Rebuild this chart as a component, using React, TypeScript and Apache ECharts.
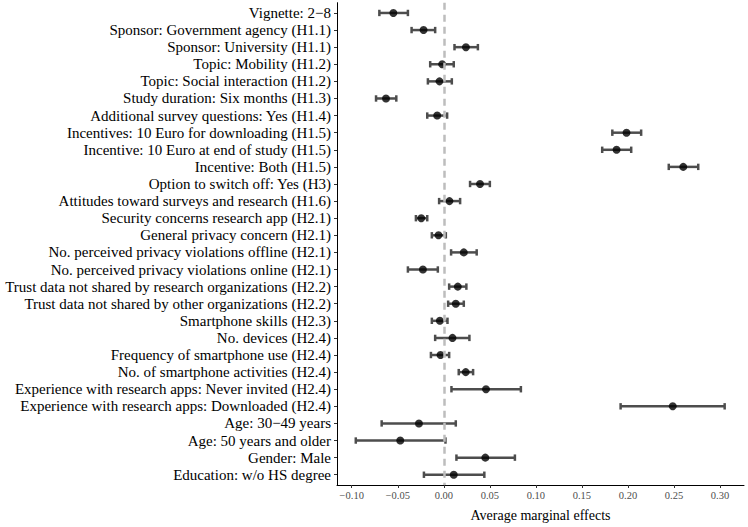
import React, { useEffect, useRef } from "react";
import * as echarts from "echarts";

const categories: string[] = [
  "Vignette: 2\u22128",
  "Sponsor: Government agency (H1.1)",
  "Sponsor: University (H1.1)",
  "Topic: Mobility (H1.2)",
  "Topic: Social interaction (H1.2)",
  "Study duration: Six months (H1.3)",
  "Additional survey questions: Yes (H1.4)",
  "Incentives: 10 Euro for downloading (H1.5)",
  "Incentive: 10 Euro at end of study (H1.5)",
  "Incentive: Both (H1.5)",
  "Option to switch off: Yes (H3)",
  "Attitudes toward surveys and research (H1.6)",
  "Security concerns research app (H2.1)",
  "General privacy concern (H2.1)",
  "No. perceived privacy violations offline (H2.1)",
  "No. perceived privacy violations online (H2.1)",
  "Trust data not shared by research organizations (H2.2)",
  "Trust data not shared by other organizations (H2.2)",
  "Smartphone skills (H2.3)",
  "No. devices (H2.4)",
  "Frequency of smartphone use (H2.4)",
  "No. of smartphone activities (H2.4)",
  "Experience with research apps: Never invited (H2.4)",
  "Experience with research apps: Downloaded (H2.4)",
  "Age: 30\u221249 years",
  "Age: 50 years and older",
  "Gender: Male",
  "Education: w/o HS degree",
];

const estimates: number[] = [
  -0.0548, -0.022, 0.024, -0.0018, -0.0047, -0.0628, -0.0072, 0.1984, 0.1876, 0.26,
  0.0393, 0.0061, -0.0245, -0.0058, 0.0217, -0.0227, 0.0152, 0.013, -0.0043, 0.0094,
  -0.0036, 0.0238, 0.0458, 0.2486, -0.027, -0.0473, 0.0451, 0.0108,
];

const lower: number[] = [
  -0.07, -0.035, 0.0116, -0.0148, -0.0173, -0.0736, -0.018, 0.183, 0.172, 0.2443,
  0.0285, -0.0051, -0.0303, -0.013, 0.0079, -0.039, 0.0058, 0.0047, -0.013, -0.0094,
  -0.014, 0.0162, 0.0083, 0.192, -0.0675, -0.0956, 0.0137, -0.0216,
];

const upper: number[] = [
  -0.039, -0.0094, 0.037, 0.0108, 0.0087, -0.0516, 0.0036, 0.2143, 0.2035, 0.2763,
  0.05, 0.0177, -0.018, 0.0022, 0.0357, -0.0065, 0.0245, 0.0217, 0.004, 0.0278,
  0.0058, 0.0318, 0.0837, 0.305, 0.013, 0.0018, 0.0772, 0.044,
];

const xTicks: number[] = [-0.1, -0.05, 0, 0.05, 0.1, 0.15, 0.2, 0.25, 0.3];

const SERIF = "Liberation Serif";

export default function App() {
  const ref = useRef<HTMLDivElement>(null);
  useEffect(() => {
    if (!ref.current) return;
    const chart = echarts.init(ref.current, undefined, { renderer: "svg" });
    const idx = categories.map((_, i) => i);
    chart.setOption({
      animation: false,
      grid: { left: 337, right: 4, top: 2.7, bottom: 40.7, containLabel: false },
      xAxis: {
        type: "value",
        position: "bottom",
        min: -0.116,
        max: 0.326,
        name: "Average marginal effects",
        nameLocation: "middle",
        nameGap: 23,
        nameTextStyle: { fontFamily: SERIF, fontSize: 14, color: "#000" },
        splitLine: { show: false },
        axisLine: { show: true, onZero: false, lineStyle: { color: "#000", width: 1 } },
        axisTick: { show: true, length: 3, customValues: xTicks, lineStyle: { color: "#333", width: 1 } },
        axisLabel: {
          customValues: xTicks,
          fontFamily: SERIF,
          fontSize: 10.5,
          color: "#4d4d4d",
          margin: 5,
          formatter: (v: number) => v.toFixed(2).replace("-", "\u2212"),
        },
      },
      yAxis: {
        type: "value",
        position: "left",
        inverse: true,
        min: -0.6,
        max: categories.length - 1 + 0.6,
        splitLine: { show: false },
        axisLine: { show: true, onZero: false, lineStyle: { color: "#000", width: 1 } },
        axisTick: { show: true, length: 3, customValues: idx, lineStyle: { color: "#333", width: 1 } },
        axisLabel: {
          customValues: idx,
          fontFamily: SERIF,
          fontSize: 15,
          color: "#000",
          margin: 6,
          formatter: (v: number) => categories[Math.round(v)] ?? "",
        },
      },
      series: [
        {
          type: "custom",
          data: idx.map((i) => [lower[i], upper[i], i]),
          renderItem: (params: any, api: any) => {
            const lo = api.coord([api.value(0), api.value(2)]);
            const hi = api.coord([api.value(1), api.value(2)]);
            const cap = 3.2;
            const style = { stroke: "#4d4d4d", lineWidth: 2.5, fill: "none" };
            return {
              type: "group",
              children: [
                { type: "line", shape: { x1: lo[0], y1: lo[1], x2: hi[0], y2: hi[1] }, style },
                { type: "line", shape: { x1: lo[0], y1: lo[1] - cap, x2: lo[0], y2: lo[1] + cap }, style },
                { type: "line", shape: { x1: hi[0], y1: hi[1] - cap, x2: hi[0], y2: hi[1] + cap }, style },
              ],
            };
          },
          markLine: {
            silent: true,
            symbol: "none",
            label: { show: false },
            lineStyle: { color: "#bdbdbd", width: 2.5, type: [7, 5] },
            data: [{ xAxis: 0 }],
          },
          z: 2,
        },
        {
          type: "scatter",
          data: idx.map((i) => [estimates[i], i]),
          symbol: "circle",
          symbolSize: 8,
          itemStyle: { color: "#000" },
          z: 3,
        },
      ],
    });
    return () => chart.dispose();
  }, []);
  return <div ref={ref} style={{ width: 748, height: 527, position: "absolute", left: 0, top: 0 }} />;
}
